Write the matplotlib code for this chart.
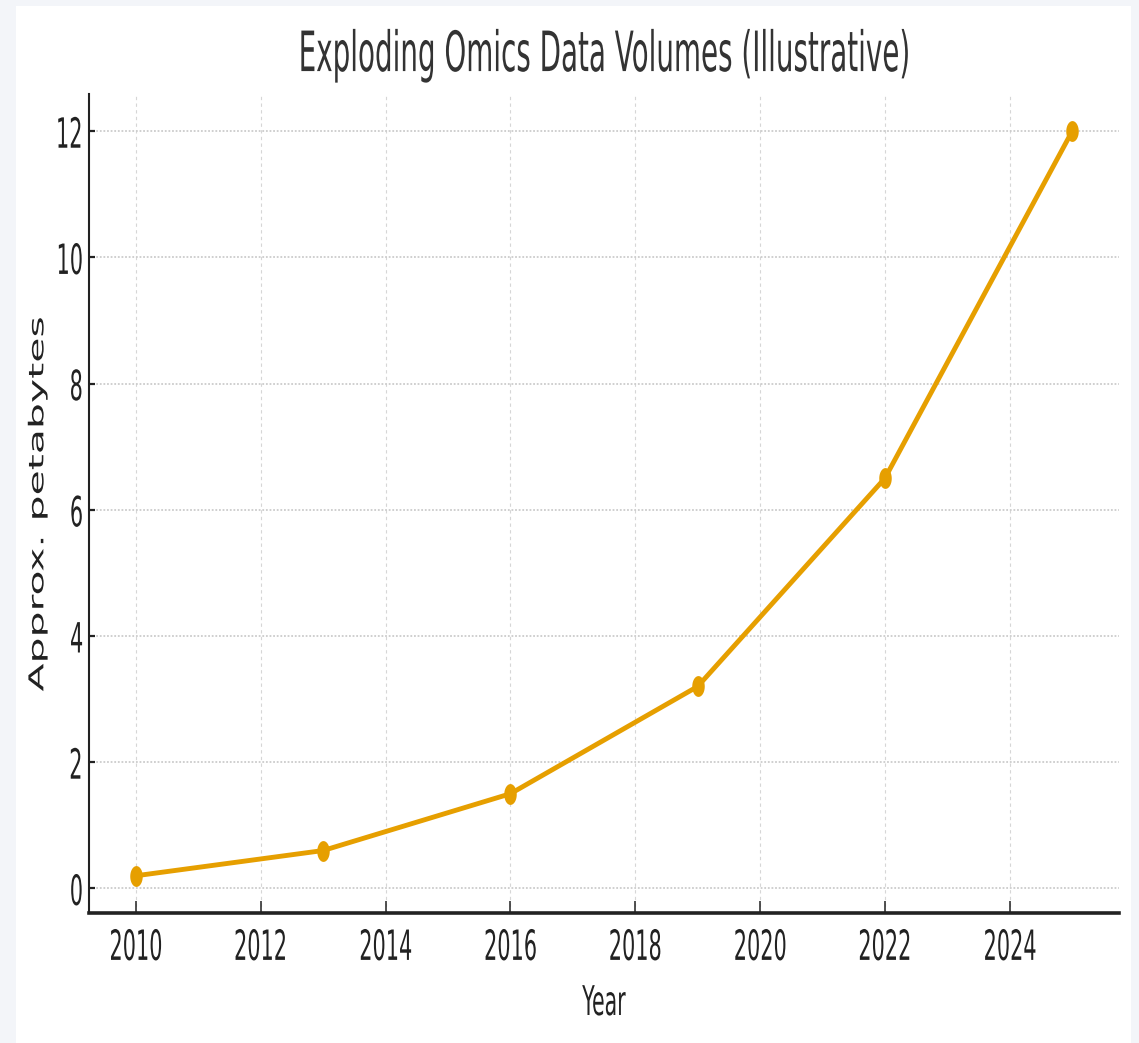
import matplotlib
matplotlib.use("Agg")
import matplotlib.pyplot as plt
from matplotlib.patches import Rectangle
from matplotlib.path import Path
from matplotlib.patheffects import AbstractPathEffect
from matplotlib.transforms import Affine2D, Bbox
import numpy as np

# ---- data ----
years = [2010, 2013, 2016, 2019, 2022, 2025]
petabytes = [0.2, 0.6, 1.5, 3.2, 6.5, 12.0]
x_ticks = [2010, 2012, 2014, 2016, 2018, 2020, 2022, 2024]
y_ticks = [0, 2, 4, 6, 8, 10, 12]
title = "Exploding Omics Data Volumes (Illustrative)"
x_label = "Year"
y_label = "Approx. petabytes"

LINE_COLOR = "#E69F00"
SQ = 0.5  # horizontal condensing of glyphs


class HSqueeze(AbstractPathEffect):
    """Render text condensed horizontally around an anchor."""

    def __init__(self, sx=0.5, anchor="center"):
        super().__init__()
        self.sx = sx
        self.anchor = anchor

    def draw_path(self, renderer, gc, tpath, affine, rgbFace=None):
        ext = tpath.get_extents(affine)
        if self.anchor == "right":
            x0 = ext.x1
        elif self.anchor == "left":
            x0 = ext.x0
        else:
            x0 = 0.5 * (ext.x0 + ext.x1)
        tr = affine + Affine2D().translate(-x0, 0).scale(self.sx, 1.0).translate(x0, 0)
        renderer.draw_path(gc, tpath, tr, rgbFace)


def condense(text, sx=SQ, anchor="center"):
    """Apply the condensing effect and report a matching (condensed) extent."""
    text.set_path_effects([HSqueeze(sx, anchor)])
    orig = text.get_window_extent

    def extent(renderer=None, dpi=None, _orig=orig):
        bb = _orig(renderer, dpi) if dpi is not None else _orig(renderer)
        if anchor == "right":
            x0 = bb.x1
        elif anchor == "left":
            x0 = bb.x0
        else:
            x0 = 0.5 * (bb.x0 + bb.x1)
        return Bbox([[x0 + (bb.x0 - x0) * sx, bb.y0], [x0 + (bb.x1 - x0) * sx, bb.y1]])

    text.get_window_extent = extent


plt.rcParams["font.family"] = ["DejaVu Sans"]

W, H = 1139, 1043
fig = plt.figure(figsize=(W / 100, H / 100), dpi=100, facecolor="#f3f5f9")
fig.patches.append(Rectangle((16 / W, 0), (1131 - 16) / W, (H - 6) / H,
                             transform=fig.transFigure, facecolor="white",
                             edgecolor="none", zorder=-10))

ax = fig.add_axes([89 / W, (H - 913) / H, (1119 - 89) / W, (913 - 94) / H])
ax.set_facecolor("white")

# elliptical (condensed) marker
t = np.linspace(0, 2 * np.pi, 60)
ell = Path(np.column_stack([0.6 * np.cos(t), np.sin(t)]), closed=True)

ax.plot(years, petabytes, color=LINE_COLOR, linewidth=3.5, marker=ell,
        markersize=15, markerfacecolor=LINE_COLOR, markeredgecolor=LINE_COLOR,
        markeredgewidth=0, zorder=3, solid_capstyle="round", solid_joinstyle="round")

ax.set_xticks(x_ticks)
ax.set_yticks(y_ticks)
ax.set_xticklabels([str(v) for v in x_ticks])
ax.set_yticklabels([str(v) for v in y_ticks])

ax.grid(axis="y", color="#cccccc", linestyle=(0, (1, 1)), linewidth=1.3, zorder=0)
ax.grid(axis="x", color="#d6d6d6", linestyle=(0, (3, 3)), linewidth=0.8, zorder=0)
ax.set_axisbelow(True)

for s in ("top", "right"):
    ax.spines[s].set_visible(False)
ax.spines["left"].set_linewidth(1.5)
ax.spines["bottom"].set_linewidth(2.6)
ax.spines["left"].set_color("#222222")
ax.spines["bottom"].set_color("#222222")

ax.tick_params(axis="x", direction="in", length=8.6, width=1.1, pad=10,
               labelsize=30, labelcolor="#222222", color="#222222")
ax.tick_params(axis="y", direction="in", length=4.3, width=1.6, pad=3.3,
               labelsize=30, labelcolor="#222222", color="#222222")

for lab in ax.get_xticklabels():
    condense(lab, SQ, "center")
for lab in ax.get_yticklabels():
    condense(lab, SQ, "right")

ttl = ax.set_title(title, fontsize=40, color="#333333", pad=16.5)
condense(ttl, SQ, "center")

xl = ax.set_xlabel(x_label, fontsize=29.5, color="#222222")
ax.xaxis.set_label_coords(0.5, (913 - 984) / (913 - 94))
condense(xl, SQ, "center")

yl = ax.set_ylabel(y_label, fontsize=29.5, color="#222222", va="center")
ax.yaxis.set_label_coords((38 - 89) / (1119 - 89), 0.5)
condense(yl, SQ, "center")

fig.savefig("out.png", dpi=100, facecolor=fig.get_facecolor())
